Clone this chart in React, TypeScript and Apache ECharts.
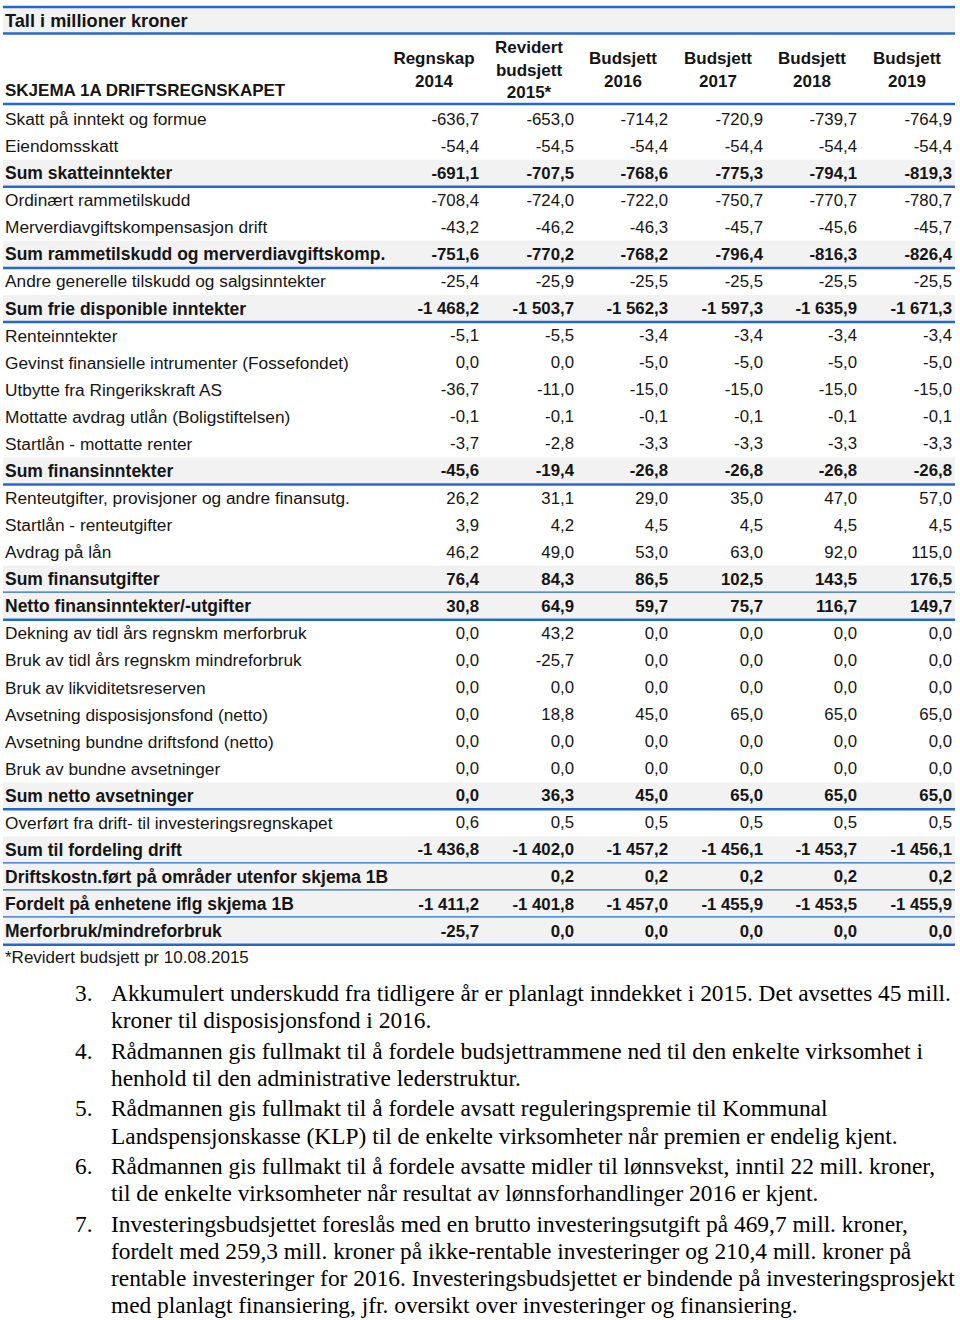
import React, { useEffect, useRef } from "react";
import * as echarts from "echarts";

const title = "Tall i millioner kroner";
const schemaTitle = "SKJEMA 1A DRIFTSREGNSKAPET";
const columnHeaders = [
  ["Regnskap", "2014"],
  ["Revidert", "budsjett", "2015*"],
  ["Budsjett", "2016"],
  ["Budsjett", "2017"],
  ["Budsjett", "2018"],
  ["Budsjett", "2019"],
];

const rowLabels = [
  "Skatt på inntekt og formue",
  "Eiendomsskatt",
  "Sum skatteinntekter",
  "Ordinært rammetilskudd",
  "Merverdiavgiftskompensasjon drift",
  "Sum rammetilskudd og merverdiavgiftskomp.",
  "Andre generelle tilskudd og salgsinntekter",
  "Sum frie disponible inntekter",
  "Renteinntekter",
  "Gevinst finansielle intrumenter (Fossefondet)",
  "Utbytte fra Ringerikskraft AS",
  "Mottatte avdrag utlån (Boligstiftelsen)",
  "Startlån - mottatte renter",
  "Sum finansinntekter",
  "Renteutgifter, provisjoner og andre finansutg.",
  "Startlån - renteutgifter",
  "Avdrag på lån",
  "Sum finansutgifter",
  "Netto finansinntekter/-utgifter",
  "Dekning av tidl års regnskm merforbruk",
  "Bruk av tidl års regnskm mindreforbruk",
  "Bruk av likviditetsreserven",
  "Avsetning disposisjonsfond (netto)",
  "Avsetning bundne driftsfond (netto)",
  "Bruk av bundne avsetninger",
  "Sum netto avsetninger",
  "Overført fra drift- til investeringsregnskapet",
  "Sum til fordeling drift",
  "Driftskostn.ført på områder utenfor skjema 1B",
  "Fordelt på enhetene iflg skjema 1B",
  "Merforbruk/mindreforbruk",
];

// indices of sum rows (bold, shaded, blue rule below)
const sumRows = [2, 5, 7, 13, 17, 18, 25, 27, 28, 29, 30];

const regnskap2014 = [-636.7, -54.4, -691.1, -708.4, -43.2, -751.6, -25.4, -1468.2, -5.1, 0.0, -36.7, -0.1, -3.7, -45.6, 26.2, 3.9, 46.2, 76.4, 30.8, 0.0, 0.0, 0.0, 0.0, 0.0, 0.0, 0.0, 0.6, -1436.8, null, -1411.2, -25.7];
const revidert2015 = [-653.0, -54.5, -707.5, -724.0, -46.2, -770.2, -25.9, -1503.7, -5.5, 0.0, -11.0, -0.1, -2.8, -19.4, 31.1, 4.2, 49.0, 84.3, 64.9, 43.2, -25.7, 0.0, 18.8, 0.0, 0.0, 36.3, 0.5, -1402.0, 0.2, -1401.8, 0.0];
const budsjett2016 = [-714.2, -54.4, -768.6, -722.0, -46.3, -768.2, -25.5, -1562.3, -3.4, -5.0, -15.0, -0.1, -3.3, -26.8, 29.0, 4.5, 53.0, 86.5, 59.7, 0.0, 0.0, 0.0, 45.0, 0.0, 0.0, 45.0, 0.5, -1457.2, 0.2, -1457.0, 0.0];
const budsjett2017 = [-720.9, -54.4, -775.3, -750.7, -45.7, -796.4, -25.5, -1597.3, -3.4, -5.0, -15.0, -0.1, -3.3, -26.8, 35.0, 4.5, 63.0, 102.5, 75.7, 0.0, 0.0, 0.0, 65.0, 0.0, 0.0, 65.0, 0.5, -1456.1, 0.2, -1455.9, 0.0];
const budsjett2018 = [-739.7, -54.4, -794.1, -770.7, -45.6, -816.3, -25.5, -1635.9, -3.4, -5.0, -15.0, -0.1, -3.3, -26.8, 47.0, 4.5, 92.0, 143.5, 116.7, 0.0, 0.0, 0.0, 65.0, 0.0, 0.0, 65.0, 0.5, -1453.7, 0.2, -1453.5, 0.0];
const budsjett2019 = [-764.9, -54.4, -819.3, -780.7, -45.7, -826.4, -25.5, -1671.3, -3.4, -5.0, -15.0, -0.1, -3.3, -26.8, 57.0, 4.5, 115.0, 176.5, 149.7, 0.0, 0.0, 0.0, 65.0, 0.0, 0.0, 65.0, 0.5, -1456.1, 0.2, -1455.9, 0.0];

const footnote = "*Revidert budsjett pr 10.08.2015";

const paragraphs = [
  { num: "3.", lines: ["Akkumulert underskudd fra tidligere år er planlagt inndekket i 2015. Det avsettes 45 mill.", "kroner til disposisjonsfond i 2016."] },
  { num: "4.", lines: ["Rådmannen gis fullmakt til å fordele budsjettrammene ned til den enkelte virksomhet i", "henhold til den administrative lederstruktur."] },
  { num: "5.", lines: ["Rådmannen gis fullmakt til å fordele avsatt reguleringspremie til Kommunal", "Landspensjonskasse (KLP) til de enkelte virksomheter når premien er endelig kjent."] },
  { num: "6.", lines: ["Rådmannen gis fullmakt til å fordele avsatte midler til lønnsvekst, inntil 22 mill. kroner,", "til de enkelte virksomheter når resultat av lønnsforhandlinger 2016 er kjent."] },
  { num: "7.", lines: ["Investeringsbudsjettet foreslås med en brutto investeringsutgift på 469,7 mill. kroner,", "fordelt med 259,3 mill. kroner på ikke-rentable investeringer og 210,4 mill. kroner på", "rentable investeringer for 2016. Investeringsbudsjettet er bindende på investeringsprosjekt", "med planlagt finansiering, jfr. oversikt over investeringer og finansiering."] },
];

function fmt(v: number | null): string {
  if (v === null || v === undefined) return "";
  const s = Math.abs(v).toFixed(1);
  const [i, d] = s.split(".");
  const ii = i.replace(/\B(?=(\d{3})+(?!\d))/g, " ");
  return (v < 0 ? "-" : "") + ii + "," + d;
}

export default function App() {
  const ref = useRef<HTMLDivElement>(null);
  useEffect(() => {
    document.body.style.margin = "0";
    const chart = echarts.init(ref.current!, null, { renderer: "svg" });
    const columns = [regnskap2014, revidert2015, budsjett2016, budsjett2017, budsjett2018, budsjett2019];
    const colRight = [479, 574, 668, 763, 857, 952];
    const left = 3;
    const right = 955;
    const blue = "#2468cf";
    const gray = "#f2f2f2";
    const ink = "#151515";
    const sans = "'Liberation Sans', Arial, sans-serif";
    const serif = "'Liberation Serif', 'Times New Roman', serif";
    const rowTop0 = 105.5;
    const rowH = 27.07;

    const els: any[] = [];
    // title band
    els.push({ type: "rect", shape: { x: left, y: 8, width: right - left, height: 25 }, style: { fill: gray } });
    els.push({ type: "line", shape: { x1: left, y1: 7, x2: right, y2: 7 }, style: { stroke: blue, lineWidth: 2.5 } });
    els.push({ type: "line", shape: { x1: left, y1: 33.5, x2: right, y2: 33.5 }, style: { stroke: blue, lineWidth: 2.5 } });
    els.push({ type: "text", x: 5, y: 21, style: { text: title, font: `bold 18.2px ${sans}`, fill: ink, verticalAlign: "middle", align: "left" } });

    // header
    els.push({ type: "text", x: 5, y: 90, style: { text: schemaTitle, font: `bold 17px ${sans}`, fill: ink, verticalAlign: "middle", align: "left" } });
    columnHeaders.forEach((lines, c) => {
      const cx = colRight[c] - 45;
      const lh = 22.5;
      const start = 70 - ((lines.length - 1) * lh) / 2;
      lines.forEach((t, k) => {
        els.push({ type: "text", x: cx, y: start + k * lh, style: { text: t, font: `bold 17px ${sans}`, fill: ink, verticalAlign: "middle", align: "center" } });
      });
    });
    els.push({ type: "line", shape: { x1: left, y1: 104, x2: right, y2: 104 }, style: { stroke: blue, lineWidth: 2.5 } });

    // rows
    rowLabels.forEach((label, r) => {
      const top = rowTop0 + r * rowH;
      const cy = top + rowH / 2;
      const isSum = sumRows.indexOf(r) >= 0;
      if (isSum) {
        els.push({ type: "rect", shape: { x: left, y: top, width: right - left, height: rowH - 1 }, style: { fill: gray } });
      }
      const labelFont = isSum ? `bold 17.5px ${sans}` : `17.3px ${sans}`;
      const numFont = isSum ? `bold 16.8px ${sans}` : `16.8px ${sans}`;
      els.push({ type: "text", x: 5, y: cy, style: { text: label, font: labelFont, fill: ink, verticalAlign: "middle", align: "left" } });
      columns.forEach((col, c) => {
        els.push({ type: "text", x: colRight[c], y: cy, style: { text: fmt(col[r]), font: numFont, fill: ink, verticalAlign: "middle", align: "right" } });
      });
      if (isSum) {
        els.push({ type: "line", shape: { x1: left, y1: top + rowH, x2: right, y2: top + rowH }, style: { stroke: blue, lineWidth: 2.5 } });
      }
    });

    const afterTable = rowTop0 + rowLabels.length * rowH;
    els.push({ type: "text", x: 5, y: afterTable + 13, style: { text: footnote, font: `17px ${sans}`, fill: ink, verticalAlign: "middle", align: "left" } });

    // paragraphs
    let y = 993;
    paragraphs.forEach((p) => {
      els.push({ type: "text", x: 75, y, style: { text: p.num, font: `23.4px ${serif}`, fill: "#000", verticalAlign: "middle", align: "left" } });
      p.lines.forEach((ln, li) => {
        els.push({ type: "text", x: 111, y: y + li * 27.2, style: { text: ln, font: `23.4px ${serif}`, fill: "#000", verticalAlign: "middle", align: "left" } });
      });
      y += (p.lines.length - 1) * 27.2 + 30.5;
    });

    chart.setOption({
      animation: false,
      backgroundColor: "#ffffff",
      graphic: { elements: els },
    });
    return () => chart.dispose();
  }, []);
  return <div ref={ref} style={{ width: 960, height: 1320 }} />;
}
